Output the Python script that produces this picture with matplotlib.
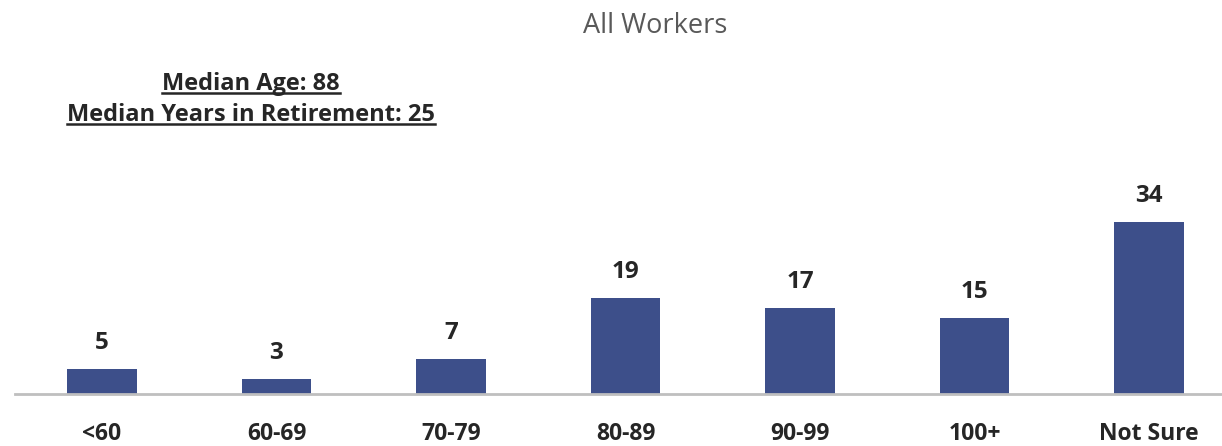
import matplotlib
matplotlib.use("Agg")
import matplotlib.pyplot as plt
from matplotlib.lines import Line2D

categories = ["<60", "60-69", "70-79", "80-89", "90-99", "100+", "Not Sure"]
values = [5, 3, 7, 19, 17, 15, 34]
title = "All Workers"
notes = ["Median Age: 88", "Median Years in Retirement: 25"]

FONT = ["Open Sans", "DejaVu Sans"]
BAR = "#3D4F8A"

W, H = 1222, 446
fig = plt.figure(figsize=(W / 100, H / 100), dpi=100)
left_px = 102 - 0.5 * 174.5
ax = fig.add_axes([left_px / W, 52 / H, 1 - left_px / W, 1 - 52 / H])
x = list(range(len(categories)))
ax.bar(x, values, width=0.4, color=BAR, zorder=2)
ax.set_xlim(-0.5, (1222 - 102) / 174.5)
ax.set_ylim(0, 394 / 5.06)
for s in ["top", "right", "left"]:
    ax.spines[s].set_visible(False)
ax.spines["bottom"].set_color("#BFBFBF")
ax.spines["bottom"].set_linewidth(2)
ax.set_yticks([])
ax.set_xticks(x)
ax.set_xticklabels(categories, fontfamily=FONT, fontweight="bold", fontsize=16.5, color="#262626")
ax.tick_params(axis="x", length=0, pad=20)

for xi, v in zip(x, values):
    ax.annotate(str(v), (xi, v), xytext=(0, 14), textcoords="offset pixels",
                ha="center", va="bottom", fontfamily=FONT, fontweight="bold",
                fontsize=17.5, color="#262626")

fig.text(655 / W, 1 - 26 / H, title, ha="center", va="center", fontfamily=FONT,
         fontsize=19.5, color="#595959")

texts = []
for i, n in enumerate(notes):
    t = fig.text(251 / W, 1 - (84 + 31 * i) / H, n, ha="center", va="center",
                 fontfamily=FONT, fontweight="bold", fontsize=17, color="#262626")
    texts.append(t)

fig.canvas.draw()
r = fig.canvas.get_renderer()
for t in texts:
    bb = t.get_window_extent(r)
    y = (bb.y0 + 3) / H
    fig.add_artist(Line2D([bb.x0 / W, bb.x1 / W], [y, y], transform=fig.transFigure,
                          color="#262626", lw=1.8))

fig.savefig("out.png", dpi=100)
